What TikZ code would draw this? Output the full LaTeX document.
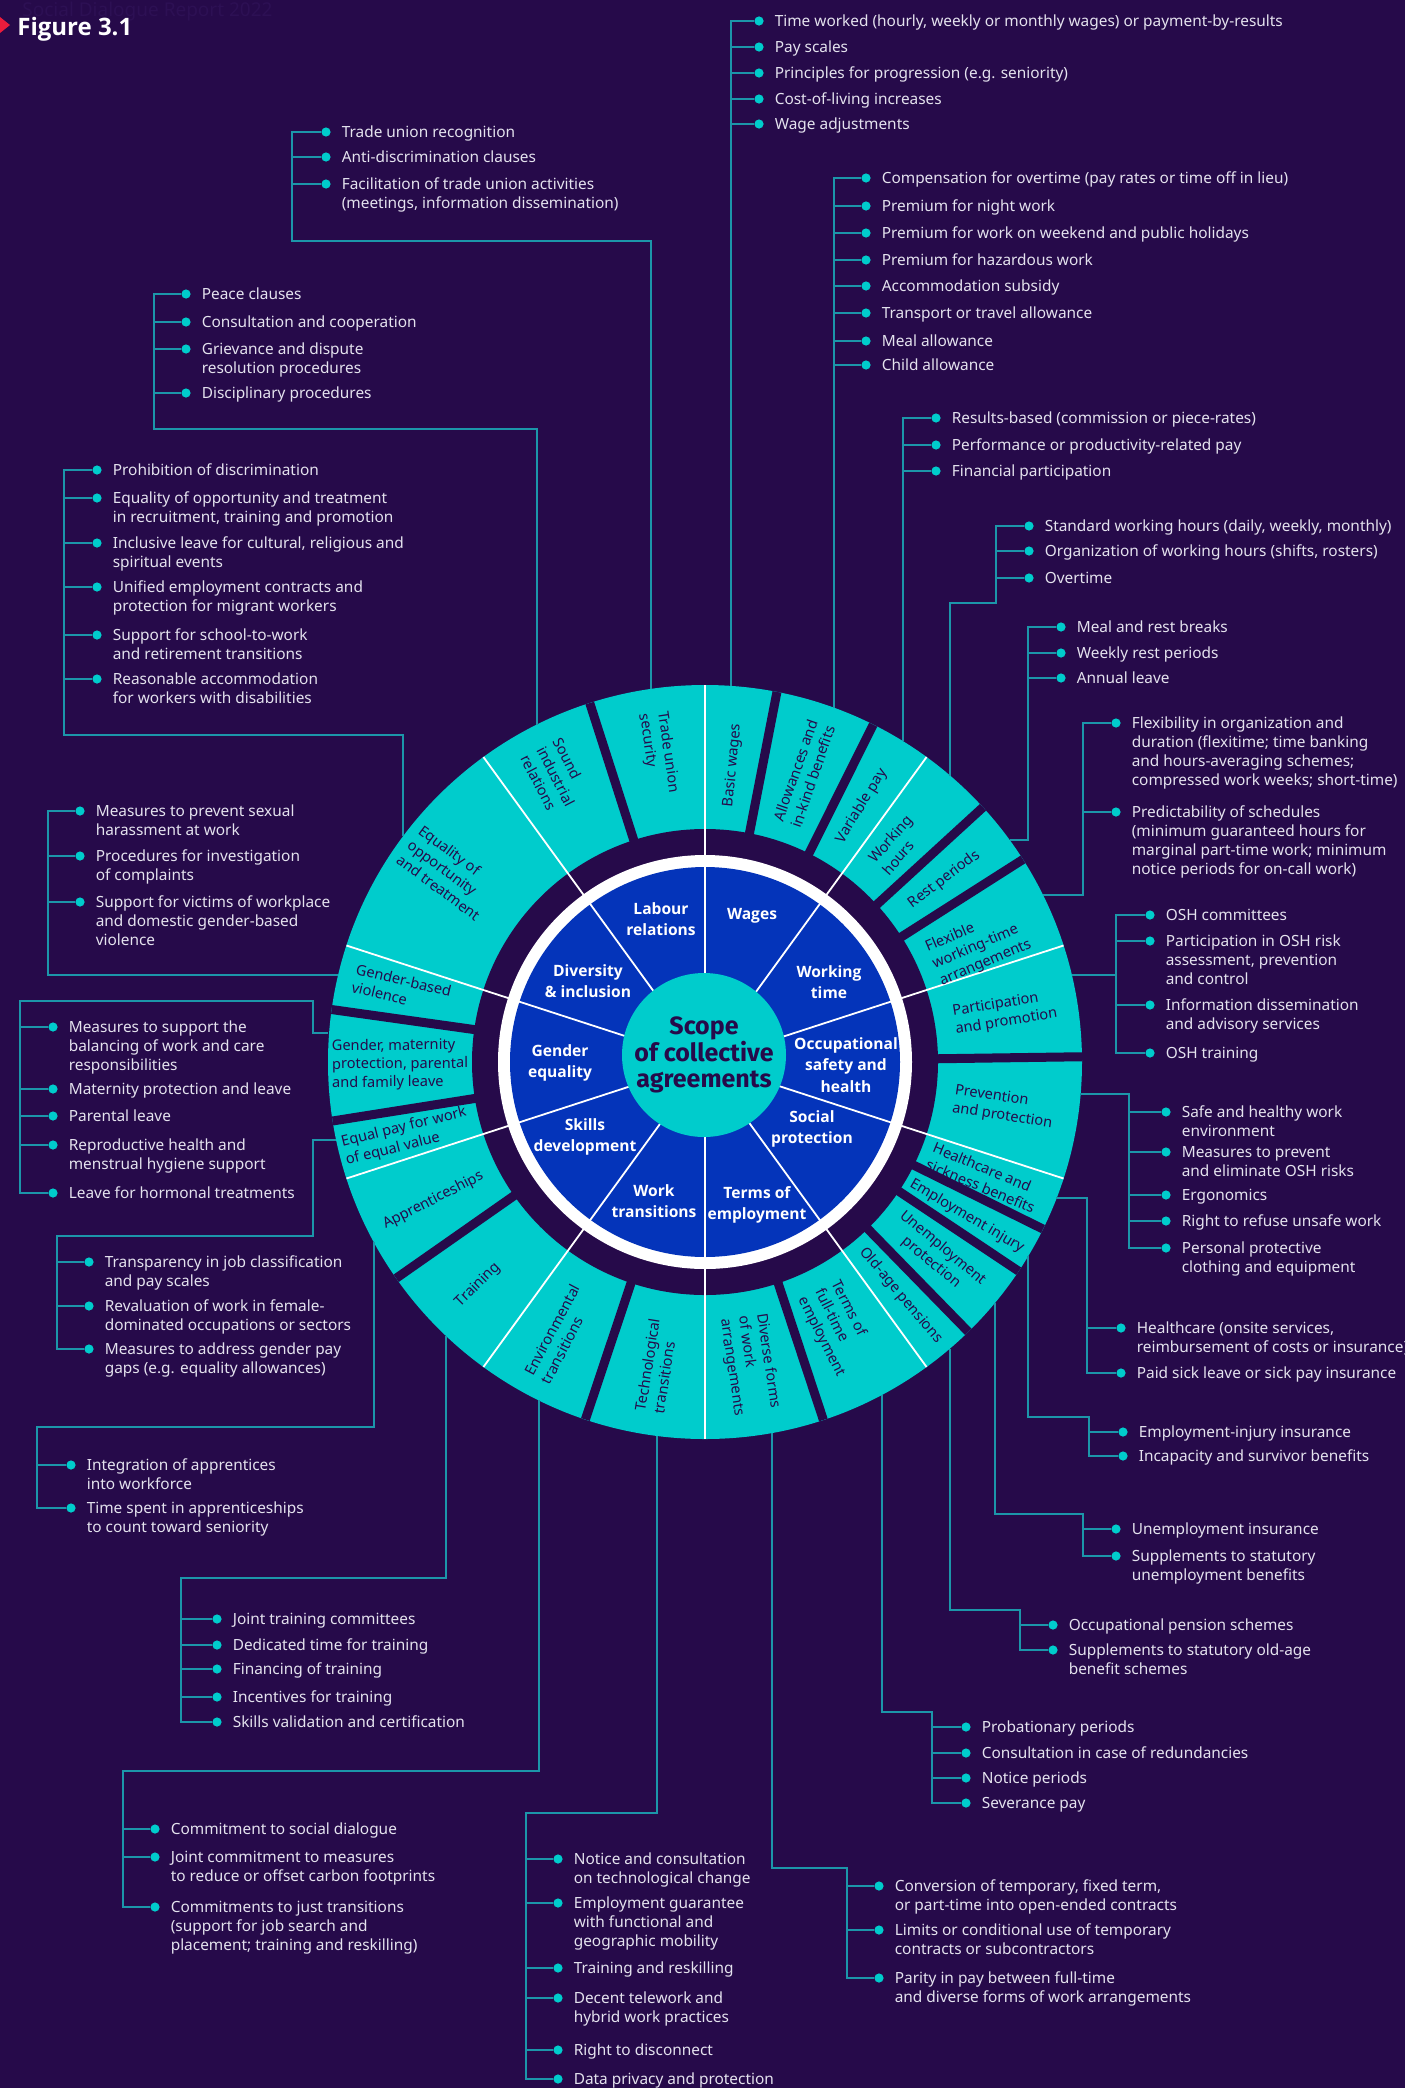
\documentclass[tikz,border=0pt]{standalone}
\usepackage{fontspec}
\setmainfont{Noto Sans}
\newfontfamily\hubfont{Fira Sans}
\newfontfamily\headfont{Open Sans}
\usetikzlibrary{positioning}

\definecolor{bgpurple}{RGB}{38,10,74}
\definecolor{ringteal}{RGB}{0,204,204}
\definecolor{discblue}{RGB}{4,52,186}
\definecolor{wirecol}{RGB}{28,150,170}
\definecolor{paletext}{RGB}{228,226,238}
\definecolor{figred}{RGB}{236,28,60}
\definecolor{faintpurple}{RGB}{45,16,84}

\newcommand\itemlines[1]{\begin{tabular}[t]{@{}l@{}}#1\end{tabular}}

\tikzset{
x=0.5pt, y=0.5pt, % one unit is one pixel of the reference
node distance=5.2pt, % gap between a bullet and its text
dot/.style={circle, fill=ringteal, inner sep=0pt, minimum size=4.6pt}, % list bullet
itemtext/.style={anchor=base west, inner sep=0pt, yshift=-2.75pt, text=paletext, font=\fontsize{7.7pt}{9.5pt}\selectfont},
wire/.style={draw=wirecol, line width=0.75pt}, % connector from ring to list
seglabel/.style={align=left, inner sep=0pt, text=bgpurple, font=\fontsize{7.3pt}{9.2pt}\selectfont},
grouplabel/.style={align=center, inner sep=0pt, text=white, font=\headfont\bfseries\fontsize{7.8pt}{10.6pt}\selectfont},
gap/.style={draw=bgpurple, line width=4.5pt}, % dark cut between outer segments
divider/.style={draw=white, line width=0.9pt}, % white line between groups
hub/.style={circle, fill=ringteal, minimum size=82pt, inner sep=0pt, align=center, text=bgpurple, font=\hubfont\bfseries\fontsize{12.5pt}{13.3pt}\selectfont},
}

\begin{document}
\begin{tikzpicture}
  \useasboundingbox (0,0) rectangle (1405,-2088);
  \fill[bgpurple] (0,0) rectangle (1405,-2088);
  \node[anchor=base west, inner sep=0pt, text=faintpurple, font=\fontsize{9.5pt}{11pt}\selectfont] (report) at (22,-17) {Social Dialogue Report 2022};
  \fill[figred] (0,-17) -- (10,-25) -- (0,-33) -- cycle;
  \node[anchor=base west, inner sep=0pt, text=white, font=\headfont\bfseries\fontsize{12pt}{14pt}\selectfont] (figno) at (17,-35) {Figure 3.1};

  \begin{scope}[shift={(705,-1062)}]
    \fill[ringteal] (0,0) circle (377);
    \fill[bgpurple] (0,0) circle (233);
    \draw[gap] (107.8:226) -- (107.8:377);
    \draw[gap] (79:226) -- (79:377);
    \draw[gap] (63.5:226) -- (63.5:377);
    \draw[gap] (42.5:226) -- (42.5:377);
    \draw[gap] (32.5:226) -- (32.5:377);
    \draw[gap] (0.8:226) -- (0.8:377);
    \draw[gap] (-26.3:226) -- (-26.3:377);
    \draw[gap] (-33.7:226) -- (-33.7:377);
    \draw[gap] (-45.7:226) -- (-45.7:377);
    \draw[gap] (-71.7:226) -- (-71.7:377);
    \draw[gap] (-108.5:226) -- (-108.5:377);
    \draw[gap] (-145:226) -- (-145:377);
    \draw[gap] (189:226) -- (189:377);
    \draw[gap] (172:226) -- (172:377);
    \fill[white] (0,0) circle (207);
    \fill[discblue] (0,0) circle (195);
    \draw[divider] (0,0) -- (90:377);
    \draw[divider] (0,0) -- (54:377);
    \draw[divider] (0,0) -- (18:377);
    \draw[divider] (0,0) -- (-18:377);
    \draw[divider] (0,0) -- (-54:377);
    \draw[divider] (0,0) -- (-90:377);
    \draw[divider] (0,0) -- (-126:377);
    \draw[divider] (0,0) -- (198:377);
    \draw[divider] (0,0) -- (162:377);
    \draw[divider] (0,0) -- (126:377);
    \node[hub] (scope) at (-1,7) {Scope\\of collective\\agreements};
    % inner ring
    \node[grouplabel] (labour) at (-44,143) {Labour\\relations};
    \node[grouplabel] (wages) at (47,146) {Wages};
    \node[grouplabel] (worktime) at (124,80) {Working\\time};
    \node[grouplabel] (osh) at (141,-3) {Occupational\\safety and\\health};
    \node[grouplabel] (socprot) at (107,-67) {Social\\protection};
    \node[grouplabel] (terms) at (52,-143) {Terms of\\employment};
    \node[grouplabel] (worktrans) at (-51,-139) {Work\\transitions};
    \node[grouplabel] (skills) at (-120,-75) {Skills\\development};
    \node[grouplabel] (gender) at (-145,-1) {Gender\\equality};
    \node[grouplabel] (diversity) at (-117,81) {Diversity\\\& inclusion};
    % outer ring
    \node[seglabel, rotate=-81.5] (tsseg) at (98.5:312) {Trade union\\security};
    \node[seglabel, rotate=-62.5] (siseg) at (117.5:322) {Sound\\industrial\\relations};
    \node[seglabel, rotate=-36.5] (eoseg) at (143.5:318) {Equality of\\opportunity\\and treatment};
    \node[seglabel, rotate=-13.5] (gbseg) at (166.5:312) {Gender-based\\violence};
    \node[seglabel, rotate=0.5] (gmseg) at (180.5:305) {Gender, maternity\\protection, parental\\and family leave};
    \node[seglabel, rotate=14] (epseg) at (194:308) {Equal pay for work\\of equal value};
    \node[seglabel, rotate=27] (apseg) at (207:305) {Apprenticeships};
    \node[seglabel, rotate=44.5] (trseg) at (224.5:318) {Training};
    \node[seglabel, rotate=62] (etseg) at (242:308) {Environmental\\transitions};
    \node[seglabel, rotate=81] (ttseg) at (261:308) {Technological\\transitions};
    \node[seglabel, rotate=-81.5] (dfseg) at (-81.5:306) {Diverse forms\\of work\\arrangements};
    \node[seglabel, rotate=-63.5] (tfseg) at (-63.5:298) {Terms of\\full-time\\employment};
    \node[seglabel, rotate=-50] (opseg) at (-50:305) {Old-age pensions};
    \node[seglabel, align=center, rotate=-39.8] (upseg) at (-39.8:302) {Unemployment\\protection};
    \node[seglabel, rotate=-30.5] (eiseg) at (-30.5:304) {Employment injury};
    \node[seglabel, rotate=-22.5] (hcseg) at (-22.5:302) {Healthcare and\\sickness benefits};
    \node[seglabel, rotate=-8.6] (pvseg) at (-8.6:302) {Prevention\\and protection};
    \node[seglabel, rotate=9.3] (ppseg) at (9.3:304) {Participation\\and promotion};
    \node[seglabel, rotate=23] (fwseg) at (23:297) {Flexible\\working-time\\arrangements};
    \node[seglabel, rotate=37.3] (rpseg) at (37.3:301) {Rest periods};
    \node[seglabel, rotate=48.5] (whseg) at (48.5:290) {Working\\hours};
    \node[seglabel, rotate=58.5] (vpseg) at (58.5:300) {Variable pay};
    \node[seglabel, rotate=71] (alseg) at (71:305) {Allowances and\\in-kind benefits};
    \node[seglabel, rotate=84.6] (bwseg) at (84.6:298) {Basic wages};
  \end{scope}

  % basic wages
  \node[dot] (bw1) at (759,-21) {};  \node[right=of bw1, itemtext] (bw1t) {Time worked (hourly, weekly or monthly wages) or payment-by-results};
  \node[dot] (bw2) at (759,-47) {};  \node[right=of bw2, itemtext] (bw2t) {Pay scales};
  \node[dot] (bw3) at (759,-73) {};  \node[right=of bw3, itemtext] (bw3t) {Principles for progression (e.g. seniority)};
  \node[dot] (bw4) at (759,-99) {};  \node[right=of bw4, itemtext] (bw4t) {Cost-of-living increases};
  \node[dot] (bw5) at (759,-124) {}; \node[right=of bw5, itemtext] (bw5t) {Wage adjustments};
  \coordinate (bwR) at (731,-686);
  \draw[wire] (bwR) |- (bw1) (bwR) |- (bw2) (bwR) |- (bw3) (bwR) |- (bw4) (bwR) |- (bw5);

  % allowances
  \node[dot] (al1) at (866,-178) {}; \node[right=of al1, itemtext] (al1t) {Compensation for overtime (pay rates or time off in lieu)};
  \node[dot] (al2) at (866,-206) {}; \node[right=of al2, itemtext] (al2t) {Premium for night work};
  \node[dot] (al3) at (866,-233) {}; \node[right=of al3, itemtext] (al3t) {Premium for work on weekend and public holidays};
  \node[dot] (al4) at (866,-260) {}; \node[right=of al4, itemtext] (al4t) {Premium for hazardous work};
  \node[dot] (al5) at (866,-286) {}; \node[right=of al5, itemtext] (al5t) {Accommodation subsidy};
  \node[dot] (al6) at (866,-313) {}; \node[right=of al6, itemtext] (al6t) {Transport or travel allowance};
  \node[dot] (al7) at (866,-341) {}; \node[right=of al7, itemtext] (al7t) {Meal allowance};
  \node[dot] (al8) at (866,-365) {}; \node[right=of al8, itemtext] (al8t) {Child allowance};
  \coordinate (alR) at (834,-708);
  \draw[wire] (alR) |- (al1) (alR) |- (al2) (alR) |- (al3) (alR) |- (al4) (alR) |- (al5) (alR) |- (al6) (alR) |- (al7) (alR) |- (al8);

  % variable pay
  \node[dot] (vp1) at (936,-418) {}; \node[right=of vp1, itemtext] (vp1t) {Results-based (commission or piece-rates)};
  \node[dot] (vp2) at (936,-445) {}; \node[right=of vp2, itemtext] (vp2t) {Performance or productivity-related pay};
  \node[dot] (vp3) at (936,-471) {}; \node[right=of vp3, itemtext] (vp3t) {Financial participation};
  \coordinate (vpR) at (903,-741);
  \draw[wire] (vpR) |- (vp1) (vpR) |- (vp2) (vpR) |- (vp3);

  % working hours
  \node[dot] (wh1) at (1029,-526) {}; \node[right=of wh1, itemtext] (wh1t) {Standard working hours (daily, weekly, monthly)};
  \node[dot] (wh2) at (1029,-551) {}; \node[right=of wh2, itemtext] (wh2t) {Organization of working hours (shifts, rosters)};
  \node[dot] (wh3) at (1029,-578) {}; \node[right=of wh3, itemtext] (wh3t) {Overtime};
  \coordinate (whR) at (950,-776);
  \coordinate (whJ) at (996,-603);
  \draw[wire] (whR) |- (whJ) |- (wh1) (whJ) |- (wh2) (whJ) |- (wh3);

  % rest periods
  \node[dot] (rp1) at (1061,-627) {}; \node[right=of rp1, itemtext] (rp1t) {Meal and rest breaks};
  \node[dot] (rp2) at (1061,-653) {}; \node[right=of rp2, itemtext] (rp2t) {Weekly rest periods};
  \node[dot] (rp3) at (1061,-678) {}; \node[right=of rp3, itemtext] (rp3t) {Annual leave};
  \coordinate (rpR) at (1010,-840);
  \coordinate (rpJ) at (1028,-840);
  \draw[wire] (rpR) -- (rpJ) |- (rp1) (rpJ) |- (rp2) (rpJ) |- (rp3);

  % flexible working time
  \node[dot] (fw1) at (1116,-723) {}; \node[right=of fw1, itemtext] (fw1t) {\itemlines{Flexibility in organization and\\duration (flexitime; time banking\\and hours-averaging schemes;\\compressed work weeks; short-time)}};
  \node[dot] (fw2) at (1116,-812) {}; \node[right=of fw2, itemtext] (fw2t) {\itemlines{Predictability of schedules\\(minimum guaranteed hours for\\marginal part-time work; minimum\\notice periods for on-call work)}};
  \coordinate (fwR) at (1043,-895);
  \coordinate (fwJ) at (1083,-895);
  \draw[wire] (fwR) -- (fwJ) |- (fw1) (fwJ) |- (fw2);

  % participation
  \node[dot] (pp1) at (1150,-915) {};  \node[right=of pp1, itemtext] (pp1t) {OSH committees};
  \node[dot] (pp2) at (1150,-941) {};  \node[right=of pp2, itemtext] (pp2t) {\itemlines{Participation in OSH risk\\assessment, prevention\\and control}};
  \node[dot] (pp3) at (1150,-1005) {}; \node[right=of pp3, itemtext] (pp3t) {\itemlines{Information dissemination\\and advisory services}};
  \node[dot] (pp4) at (1150,-1053) {}; \node[right=of pp4, itemtext] (pp4t) {OSH training};
  \coordinate (ppR) at (1072,-975);
  \coordinate (ppJ) at (1116,-975);
  \draw[wire] (ppR) -- (ppJ) |- (pp1) (ppJ) |- (pp2) (ppJ) |- (pp3) (ppJ) |- (pp4);

  % prevention
  \node[dot] (pv1) at (1166,-1112) {}; \node[right=of pv1, itemtext] (pv1t) {\itemlines{Safe and healthy work\\environment}};
  \node[dot] (pv2) at (1166,-1152) {}; \node[right=of pv2, itemtext] (pv2t) {\itemlines{Measures to prevent\\and eliminate OSH risks}};
  \node[dot] (pv3) at (1166,-1195) {}; \node[right=of pv3, itemtext] (pv3t) {Ergonomics};
  \node[dot] (pv4) at (1166,-1221) {}; \node[right=of pv4, itemtext] (pv4t) {Right to refuse unsafe work};
  \node[dot] (pv5) at (1166,-1248) {}; \node[right=of pv5, itemtext] (pv5t) {\itemlines{Personal protective\\clothing and equipment}};
  \coordinate (pvR) at (1081,-1094);
  \coordinate (pvJ) at (1129,-1094);
  \draw[wire] (pvR) -- (pvJ) |- (pv1) (pvJ) |- (pv2) (pvJ) |- (pv3) (pvJ) |- (pv4) (pvJ) |- (pv5);

  % healthcare
  \node[dot] (hc1) at (1121,-1328) {}; \node[right=of hc1, itemtext] (hc1t) {\itemlines{Healthcare (onsite services,\\reimbursement of costs or insurance)}};
  \node[dot] (hc2) at (1121,-1373) {}; \node[right=of hc2, itemtext] (hc2t) {Paid sick leave or sick pay insurance};
  \coordinate (hcR) at (1056,-1198);
  \coordinate (hcJ) at (1087,-1198);
  \draw[wire] (hcR) -- (hcJ) |- (hc1) (hcJ) |- (hc2);

  % employment injury
  \node[dot] (ei1) at (1123,-1432) {}; \node[right=of ei1, itemtext] (ei1t) {Employment-injury insurance};
  \node[dot] (ei2) at (1123,-1456) {}; \node[right=of ei2, itemtext] (ei2t) {Incapacity and survivor benefits};
  \coordinate (eiR) at (1028,-1256);
  \coordinate (eiJ) at (1089,-1417);
  \draw[wire] (eiR) |- (eiJ) |- (ei1) (eiJ) |- (ei2);

  % unemployment
  \node[dot] (up1) at (1116,-1529) {}; \node[right=of up1, itemtext] (up1t) {Unemployment insurance};
  \node[dot] (up2) at (1116,-1556) {}; \node[right=of up2, itemtext] (up2t) {\itemlines{Supplements to statutory\\unemployment benefits}};
  \coordinate (upR) at (995,-1303);
  \coordinate (upJ) at (1083,-1514);
  \draw[wire] (upR) |- (upJ) |- (up1) (upJ) |- (up2);

  % old-age pensions
  \node[dot] (op1) at (1053,-1625) {}; \node[right=of op1, itemtext] (op1t) {Occupational pension schemes};
  \node[dot] (op2) at (1053,-1650) {}; \node[right=of op2, itemtext] (op2t) {\itemlines{Supplements to statutory old-age\\benefit schemes}};
  \coordinate (opR) at (950,-1349);
  \coordinate (opJ) at (1020,-1610);
  \draw[wire] (opR) |- (opJ) |- (op1) (opJ) |- (op2);

  % terms of full-time employment
  \node[dot] (tf1) at (966,-1727) {}; \node[right=of tf1, itemtext] (tf1t) {Probationary periods};
  \node[dot] (tf2) at (966,-1753) {}; \node[right=of tf2, itemtext] (tf2t) {Consultation in case of redundancies};
  \node[dot] (tf3) at (966,-1778) {}; \node[right=of tf3, itemtext] (tf3t) {Notice periods};
  \node[dot] (tf4) at (966,-1803) {}; \node[right=of tf4, itemtext] (tf4t) {Severance pay};
  \coordinate (tfR) at (882,-1395);
  \coordinate (tfJ) at (932,-1712);
  \draw[wire] (tfR) |- (tfJ) |- (tf1) (tfJ) |- (tf2) (tfJ) |- (tf3) (tfJ) |- (tf4);

  % diverse forms
  \node[dot] (df1) at (879,-1886) {}; \node[right=of df1, itemtext] (df1t) {\itemlines{Conversion of temporary, fixed term,\\or part-time into open-ended contracts}};
  \node[dot] (df2) at (879,-1930) {}; \node[right=of df2, itemtext] (df2t) {\itemlines{Limits or conditional use of temporary\\contracts or subcontractors}};
  \node[dot] (df3) at (879,-1978) {}; \node[right=of df3, itemtext] (df3t) {\itemlines{Parity in pay between full-time\\and diverse forms of work arrangements}};
  \coordinate (dfR) at (772,-1433);
  \coordinate (dfJ) at (847,-1868);
  \draw[wire] (dfR) |- (dfJ) |- (df1) (dfJ) |- (df2) (dfJ) |- (df3);

  % technological transitions
  \node[dot] (tt1) at (558,-1859) {}; \node[right=of tt1, itemtext] (tt1t) {\itemlines{Notice and consultation\\on technological change}};
  \node[dot] (tt2) at (558,-1903) {}; \node[right=of tt2, itemtext] (tt2t) {\itemlines{Employment guarantee\\with functional and\\geographic mobility}};
  \node[dot] (tt3) at (558,-1968) {}; \node[right=of tt3, itemtext] (tt3t) {Training and reskilling};
  \node[dot] (tt4) at (558,-1998) {}; \node[right=of tt4, itemtext] (tt4t) {\itemlines{Decent telework and\\hybrid work practices}};
  \node[dot] (tt5) at (558,-2050) {}; \node[right=of tt5, itemtext] (tt5t) {Right to disconnect};
  \node[dot] (tt6) at (558,-2079) {}; \node[right=of tt6, itemtext] (tt6t) {Data privacy and protection};
  \coordinate (ttR) at (657,-1436);
  \coordinate (ttJ) at (526,-1813);
  \draw[wire] (ttR) |- (ttJ) |- (tt1) (ttJ) |- (tt2) (ttJ) |- (tt3) (ttJ) |- (tt4) (ttJ) |- (tt5) (ttJ) |- (tt6);

  % environmental transitions
  \node[dot] (et1) at (155,-1829) {}; \node[right=of et1, itemtext] (et1t) {Commitment to social dialogue};
  \node[dot] (et2) at (155,-1857) {}; \node[right=of et2, itemtext] (et2t) {\itemlines{Joint commitment to measures\\to reduce or offset carbon footprints}};
  \node[dot] (et3) at (155,-1907) {}; \node[right=of et3, itemtext] (et3t) {\itemlines{Commitments to just transitions\\(support for job search and\\placement; training and reskilling)}};
  \coordinate (etR) at (539,-1400);
  \coordinate (etJ) at (123,-1771);
  \draw[wire] (etR) |- (etJ) |- (et1) (etJ) |- (et2) (etJ) |- (et3);

  % training
  \node[dot] (tr1) at (217,-1619) {}; \node[right=of tr1, itemtext] (tr1t) {Joint training committees};
  \node[dot] (tr2) at (217,-1645) {}; \node[right=of tr2, itemtext] (tr2t) {Dedicated time for training};
  \node[dot] (tr3) at (217,-1669) {}; \node[right=of tr3, itemtext] (tr3t) {Financing of training};
  \node[dot] (tr4) at (217,-1697) {}; \node[right=of tr4, itemtext] (tr4t) {Incentives for training};
  \node[dot] (tr5) at (217,-1722) {}; \node[right=of tr5, itemtext] (tr5t) {Skills validation and certification};
  \coordinate (trR) at (446,-1336);
  \coordinate (trJ) at (181,-1578);
  \draw[wire] (trR) |- (trJ) |- (tr1) (trJ) |- (tr2) (trJ) |- (tr3) (trJ) |- (tr4) (trJ) |- (tr5);

  % apprenticeships
  \node[dot] (ap1) at (71,-1465) {}; \node[right=of ap1, itemtext] (ap1t) {\itemlines{Integration of apprentices\\into workforce}};
  \node[dot] (ap2) at (71,-1508) {}; \node[right=of ap2, itemtext] (ap2t) {\itemlines{Time spent in apprenticeships\\to count toward seniority}};
  \coordinate (apR) at (374,-1242);
  \coordinate (apJ) at (37,-1427);
  \draw[wire] (apR) |- (apJ) |- (ap1) (apJ) |- (ap2);

  % equal pay
  \node[dot] (ep1) at (89,-1262) {}; \node[right=of ep1, itemtext] (ep1t) {\itemlines{Transparency in job classification\\and pay scales}};
  \node[dot] (ep2) at (89,-1306) {}; \node[right=of ep2, itemtext] (ep2t) {\itemlines{Revaluation of work in female-\\dominated occupations or sectors}};
  \node[dot] (ep3) at (89,-1349) {}; \node[right=of ep3, itemtext] (ep3t) {\itemlines{Measures to address gender pay\\gaps (e.g. equality allowances)}};
  \coordinate (epR) at (336,-1140);
  \coordinate (epK) at (313,-1236);
  \coordinate (epJ) at (57,-1236);
  \draw[wire] (epR) -| (epK) -- (epJ) |- (ep1) (epJ) |- (ep2) (epJ) |- (ep3);

  % gender, maternity, parental and family leave
  \node[dot] (gm1) at (53,-1027) {}; \node[right=of gm1, itemtext] (gm1t) {\itemlines{Measures to support the\\balancing of work and care\\responsibilities}};
  \node[dot] (gm2) at (53,-1089) {}; \node[right=of gm2, itemtext] (gm2t) {Maternity protection and leave};
  \node[dot] (gm3) at (53,-1116) {}; \node[right=of gm3, itemtext] (gm3t) {Parental leave};
  \node[dot] (gm4) at (53,-1145) {}; \node[right=of gm4, itemtext] (gm4t) {\itemlines{Reproductive health and\\menstrual hygiene support}};
  \node[dot] (gm5) at (53,-1193) {}; \node[right=of gm5, itemtext] (gm5t) {Leave for hormonal treatments};
  \coordinate (gmR) at (328,-1033);
  \coordinate (gmK) at (313,-1001);
  \coordinate (gmJ) at (20,-1001);
  \draw[wire] (gmR) -| (gmK) -- (gmJ) |- (gm1) (gmJ) |- (gm2) (gmJ) |- (gm3) (gmJ) |- (gm4) (gmJ) |- (gm5);

  % gender-based violence
  \node[dot] (gb1) at (80,-811) {}; \node[right=of gb1, itemtext] (gb1t) {\itemlines{Measures to prevent sexual\\harassment at work}};
  \node[dot] (gb2) at (80,-856) {}; \node[right=of gb2, itemtext] (gb2t) {\itemlines{Procedures for investigation\\of complaints}};
  \node[dot] (gb3) at (80,-902) {}; \node[right=of gb3, itemtext] (gb3t) {\itemlines{Support for victims of workplace\\and domestic gender-based\\violence}};
  \coordinate (gbR) at (338,-975);
  \coordinate (gbJ) at (48,-975);
  \draw[wire] (gbR) -- (gbJ) |- (gb1) (gbJ) |- (gb2) (gbJ) |- (gb3);

  % equality of opportunity
  \node[dot] (eo1) at (97,-470) {}; \node[right=of eo1, itemtext] (eo1t) {Prohibition of discrimination};
  \node[dot] (eo2) at (97,-498) {}; \node[right=of eo2, itemtext] (eo2t) {\itemlines{Equality of opportunity and treatment\\in recruitment, training and promotion}};
  \node[dot] (eo3) at (97,-543) {}; \node[right=of eo3, itemtext] (eo3t) {\itemlines{Inclusive leave for cultural, religious and\\spiritual events}};
  \node[dot] (eo4) at (97,-587) {}; \node[right=of eo4, itemtext] (eo4t) {\itemlines{Unified employment contracts and\\protection for migrant workers}};
  \node[dot] (eo5) at (97,-635) {}; \node[right=of eo5, itemtext] (eo5t) {\itemlines{Support for school-to-work\\and retirement transitions}};
  \node[dot] (eo6) at (97,-679) {}; \node[right=of eo6, itemtext] (eo6t) {\itemlines{Reasonable accommodation\\for workers with disabilities}};
  \coordinate (eoR) at (403,-836);
  \coordinate (eoJ) at (64,-735);
  \draw[wire] (eoR) |- (eoJ) |- (eo1) (eoJ) |- (eo2) (eoJ) |- (eo3) (eoJ) |- (eo4) (eoJ) |- (eo5) (eoJ) |- (eo6);

  % sound industrial relations
  \node[dot] (si1) at (186,-294) {}; \node[right=of si1, itemtext] (si1t) {Peace clauses};
  \node[dot] (si2) at (186,-322) {}; \node[right=of si2, itemtext] (si2t) {Consultation and cooperation};
  \node[dot] (si3) at (186,-349) {}; \node[right=of si3, itemtext] (si3t) {\itemlines{Grievance and dispute\\resolution procedures}};
  \node[dot] (si4) at (186,-393) {}; \node[right=of si4, itemtext] (si4t) {Disciplinary procedures};
  \coordinate (siR) at (537,-725);
  \coordinate (siJ) at (154,-429);
  \draw[wire] (siR) |- (siJ) |- (si1) (siJ) |- (si2) (siJ) |- (si3) (siJ) |- (si4);

  % trade union security
  \node[dot] (ts1) at (326,-132) {}; \node[right=of ts1, itemtext] (ts1t) {Trade union recognition};
  \node[dot] (ts2) at (326,-157) {}; \node[right=of ts2, itemtext] (ts2t) {Anti-discrimination clauses};
  \node[dot] (ts3) at (326,-184) {}; \node[right=of ts3, itemtext] (ts3t) {\itemlines{Facilitation of trade union activities\\(meetings, information dissemination)}};
  \coordinate (tsR) at (651,-689);
  \coordinate (tsJ) at (292,-241);
  \draw[wire] (tsR) |- (tsJ) |- (ts1) (tsJ) |- (ts2) (tsJ) |- (ts3);
\end{tikzpicture}
\end{document}
